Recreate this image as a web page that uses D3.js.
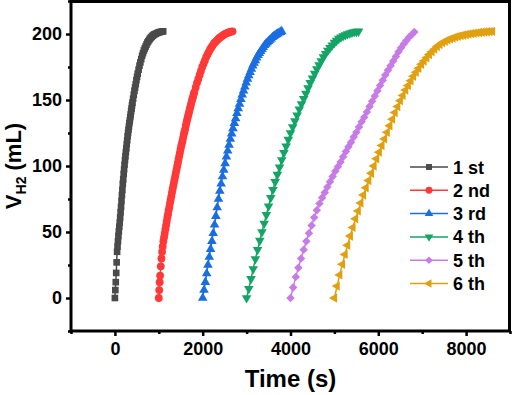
<!DOCTYPE html>
<html>
<head>
<meta charset="utf-8">
<script src="https://cdn.jsdelivr.net/npm/d3@7"></script>
<style>
  body { margin: 0; background: #fff; }
  text { font-family: "Liberation Sans", Arial, sans-serif; font-weight: bold; }
</style>
</head>
<body>
<div id="chart"></div>
<script>
// time (s), volume of H2 (mL) for each cycle
const run1 = [[0,0],[10,6],[20,12],[30,19],[40,27],[50,35],[60,39],[70,43],[80,47],[90,50.5],[100,54],[110,57],[120,61],[130,65],[140,69],[150,73.5],[160,78],[170,82],[180,86.5],[190,90],[200,94],[210,97.5],[220,101],[230,104.5],[240,107.5],[250,110.5],[260,113.5],[270,116.5],[280,119.5],[290,122.5],[300,125],[310,127.5],[320,130],[330,132.5],[340,134.5],[350,137],[360,139],[370,141.5],[380,143.5],[390,146],[400,148],[415,151],[430,154],[445,157],[460,159.5],[475,162],[490,165],[505,167.5],[520,170],[540,173],[560,176],[580,178.5],[600,181],[620,183.5],[640,185.5],[660,187.5],[680,189],[700,190.5],[720,192],[740,193.5],[760,194.5],[780,195.5],[800,196.5],[820,197.3],[840,198],[860,198.7],[880,199.2],[900,199.7],[930,200.2],[960,200.7],[990,201.1],[1020,201.4],[1050,201.7],[1080,201.9],[1100,202]];
const run2 = [[1000,0],[1010,6],[1020,12],[1030,17],[1045,24],[1060,30],[1075,35],[1090,39],[1105,43],[1120,46],[1135,49],[1150,52],[1165,55],[1180,58],[1195,61],[1210,63.5],[1225,66.5],[1240,69],[1255,72],[1270,74.5],[1285,77],[1300,80],[1315,82.5],[1330,85],[1345,87.5],[1360,90],[1375,92.5],[1390,95],[1405,97.5],[1420,100],[1435,102.5],[1450,105],[1465,107.5],[1480,110],[1495,112.5],[1510,115],[1525,117],[1540,119],[1555,121.5],[1570,124],[1585,126],[1600,128],[1615,130.5],[1630,133],[1645,135],[1660,137],[1675,139],[1690,141],[1705,143],[1720,145],[1735,147],[1750,149],[1765,151],[1780,152.5],[1795,154.5],[1810,156],[1840,159.5],[1870,163],[1900,166],[1930,169],[1960,172],[1990,175],[2020,177.5],[2050,180],[2080,182.5],[2110,184.5],[2140,186.5],[2170,188.5],[2200,190],[2230,191.5],[2260,193],[2290,194],[2320,195],[2350,196],[2380,197],[2410,197.8],[2440,198.5],[2470,199.2],[2500,199.8],[2530,200.3],[2560,200.8],[2590,201.2],[2620,201.5],[2650,201.8],[2680,202]];
const run3 = [[2000,0],[2030,6],[2060,12],[2090,18.5],[2120,25],[2150,31],[2180,37],[2210,43],[2240,49],[2270,55.5],[2300,62],[2330,68.5],[2360,75],[2390,81],[2420,86.5],[2450,92],[2480,97],[2510,102],[2540,107],[2570,111.5],[2600,116],[2630,120.5],[2660,124.5],[2690,128.5],[2720,132.5],[2750,136],[2780,140],[2810,143.5],[2840,147],[2870,150.5],[2900,154],[2930,157],[2960,160],[2990,163],[3020,166],[3050,168.5],[3080,171],[3110,173.5],[3140,176],[3170,178],[3200,180],[3230,182],[3260,184],[3290,185.5],[3320,187],[3350,188.5],[3380,190],[3410,191.5],[3440,192.5],[3470,193.5],[3500,194.5],[3530,195.5],[3560,196.5],[3590,197.5],[3620,198.3],[3650,199],[3680,199.7],[3710,200.3],[3740,200.9],[3770,201.4],[3800,202]];
const run4 = [[3000,0],[3050,7],[3100,14.5],[3150,22],[3200,29.5],[3250,36.5],[3300,43.5],[3350,50],[3400,56.5],[3450,63],[3500,69.5],[3550,76],[3600,82],[3650,88],[3700,93.5],[3750,99],[3800,104.5],[3850,110],[3900,115],[3950,120],[4000,125],[4050,129.5],[4100,134],[4150,138.5],[4200,143],[4250,147],[4300,151],[4350,155],[4400,159],[4450,163],[4500,166.5],[4550,170],[4600,173.5],[4650,176.5],[4700,179.5],[4750,182.5],[4800,185],[4850,187.5],[4900,189.5],[4950,191.5],[5000,193.5],[5050,195],[5100,196.5],[5150,197.5],[5200,198.5],[5250,199.3],[5300,200],[5350,200.6],[5400,201.1],[5450,201.5],[5500,201.8],[5550,202]];
const run5 = [[4000,0],[4060,8],[4120,16],[4180,23],[4240,30],[4300,36.5],[4360,43],[4420,49],[4480,55],[4540,61],[4600,66.5],[4660,71.5],[4720,76],[4780,80],[4840,84],[4900,88],[4960,92],[5020,96],[5080,99.5],[5140,103],[5200,107],[5260,111],[5320,114.5],[5380,118],[5440,122],[5500,125.5],[5560,129.5],[5620,133.5],[5680,137],[5740,141],[5800,145],[5860,149],[5920,153],[5980,157],[6040,161],[6100,165],[6160,169],[6220,172.5],[6280,176],[6340,179.5],[6400,183],[6460,186.5],[6520,189.5],[6580,192.5],[6640,195],[6700,197.5],[6760,199.5],[6820,201.5]];
const run6 = [[5000,0],[5060,9],[5120,17.5],[5180,25.5],[5240,33],[5300,40],[5360,47],[5420,53.5],[5480,60],[5540,66],[5600,72],[5660,78],[5720,83.5],[5780,89],[5840,94.5],[5900,100],[5960,105.5],[6020,110.5],[6080,115.5],[6140,120.5],[6200,125.5],[6260,130.5],[6320,135.5],[6380,140.5],[6440,145],[6500,149.5],[6560,153.5],[6620,157.5],[6680,161],[6740,164.5],[6800,168],[6860,171],[6920,174],[6980,177],[7040,179.5],[7100,182],[7160,184.5],[7220,186.5],[7280,188.5],[7340,190.5],[7400,192],[7460,193.5],[7520,194.5],[7580,195.5],[7640,196.3],[7700,197],[7760,197.7],[7820,198.3],[7880,198.8],[7940,199.2],[8000,199.6],[8060,200],[8120,200.3],[8180,200.6],[8240,200.9],[8300,201.1],[8360,201.3],[8420,201.5],[8480,201.7],[8540,201.8],[8600,202]];

const runNames = ["1 st", "2 nd", "3 rd", "4 th", "5 th", "6 th"];
const runColors = ["#4a4a4a", "#ff3838", "#1a6ee0", "#14a566", "#c77be6", "#e0a010"];
const xTicks = [0, 2000, 4000, 6000, 8000];
const xMinor = [-1000, 1000, 3000, 5000, 7000, 9000];
const yTicks = [0, 50, 100, 150, 200];
const yMinor = [-25, 25, 75, 125, 175, 225];

const runs = [run1, run2, run3, run4, run5, run6];

const width = 512, height = 395;

const svg = d3.select("#chart").append("svg")
  .attr("width", width)
  .attr("height", height);

const x = d3.scaleLinear().domain([-1000, 9000]).range([71, 510]);
const y = d3.scaleLinear().domain([-25, 225]).range([331, 1]);

// marker shapes: square, circle, up, down, diamond, left
const shapes = [
  {type: d3.symbolSquare, size: 44, rot: 0},
  {type: d3.symbolCircle, size: 48, rot: 0},
  {type: d3.symbolTriangle, size: 40, rot: 0},
  {type: d3.symbolTriangle, size: 40, rot: 180},
  {type: d3.symbolSquare, size: 36, rot: 45},
  {type: d3.symbolTriangle, size: 38, rot: -90}
];

const line = d3.line().x(d => x(d[0])).y(d => y(d[1]));

runs.forEach((run, i) => {
  const g = svg.append("g");
  g.append("path")
    .datum(run)
    .attr("fill", "none")
    .attr("stroke", runColors[i])
    .attr("stroke-width", 1.5)
    .attr("d", line);
  g.selectAll("path.mk")
    .data(run)
    .enter().append("path")
    .attr("class", "mk")
    .attr("fill", runColors[i])
    .attr("d", d3.symbol().type(shapes[i].type).size(shapes[i].size))
    .attr("transform", d => `translate(${x(d[0])},${y(d[1])}) rotate(${shapes[i].rot})`);
});

// frame
svg.append("rect")
  .attr("x", 71).attr("y", 1.5)
  .attr("width", 438.5).attr("height", 329.5)
  .attr("fill", "none")
  .attr("stroke", "#000")
  .attr("stroke-width", 3);

// x axis
svg.append("g")
  .attr("transform", "translate(0,331)")
  .call(d3.axisBottom(x).tickValues(xTicks).tickSize(5).tickSizeOuter(0).tickPadding(6).tickFormat(d3.format("d")));
svg.append("g")
  .attr("transform", "translate(0,331)")
  .call(d3.axisBottom(x).tickValues(xMinor).tickSize(3).tickFormat(""));

// y axis
svg.append("g")
  .attr("transform", "translate(71,0)")
  .call(d3.axisLeft(y).tickValues(yTicks).tickSize(5).tickSizeOuter(0).tickPadding(4));
svg.append("g")
  .attr("transform", "translate(71,0)")
  .call(d3.axisLeft(y).tickValues(yMinor).tickSize(3).tickFormat(""));

svg.selectAll(".domain").remove();
svg.selectAll(".tick line").attr("stroke", "#000").attr("stroke-width", 2.5);
svg.selectAll(".tick text")
  .attr("fill", "#000")
  .style("font-family", "'Liberation Sans', Arial, sans-serif")
  .style("font-weight", "bold")
  .style("font-size", "18px");

// axis titles
svg.append("text")
  .attr("x", 290.5).attr("y", 387)
  .attr("text-anchor", "middle")
  .style("font-size", "24px")
  .text("Time (s)");

const yTitle = svg.append("text")
  .attr("transform", "translate(21,166) rotate(-90)")
  .attr("text-anchor", "middle")
  .style("font-size", "22px");
yTitle.append("tspan").text("V");
yTitle.append("tspan").attr("dy", 5).style("font-size", "14px").text("H2");
yTitle.append("tspan").attr("dy", -5).text(" (mL)");

// legend
const legend = svg.append("g");
runNames.forEach((name, i) => {
  const ly = 167 + i * 23.3;
  const lg = legend.append("g");
  lg.append("line")
    .attr("x1", 410).attr("x2", 448)
    .attr("y1", ly).attr("y2", ly)
    .attr("stroke", runColors[i])
    .attr("stroke-width", 1.5);
  lg.append("path")
    .attr("fill", runColors[i])
    .attr("d", d3.symbol().type(shapes[i].type).size(shapes[i].size * 0.8))
    .attr("transform", `translate(429,${ly}) rotate(${shapes[i].rot})`);
  lg.append("text")
    .attr("x", 453).attr("y", ly + 6.5)
    .style("font-size", "18px")
    .text(name);
});
</script>
</body>
</html>
